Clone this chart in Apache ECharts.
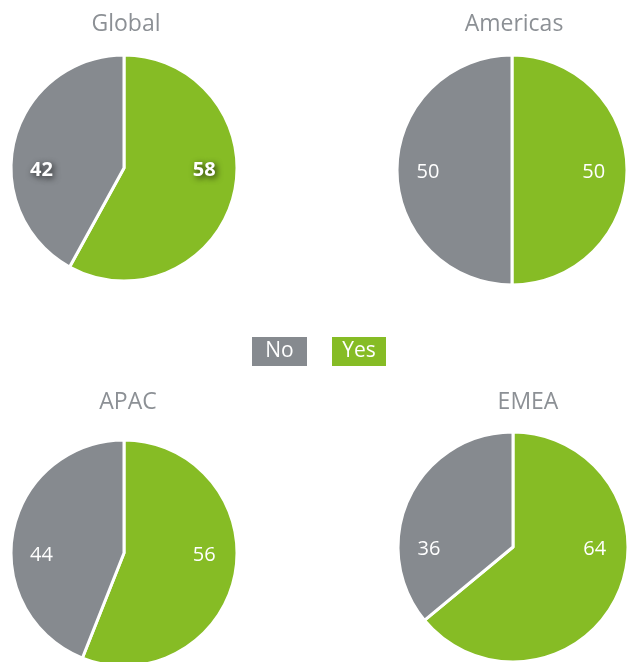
<!DOCTYPE html>
<html>
<head>
<meta charset="utf-8">
<script src="https://cdn.jsdelivr.net/npm/echarts@6/dist/echarts.min.js"></script>
<style>
html,body{margin:0;padding:0;background:#fff;}
#chart{width:627px;height:662px;}
</style>
</head>
<body>
<div id="chart"></div>
<script>
var regions = ['Global', 'Americas', 'APAC', 'EMEA'];
var categories = ['Yes', 'No'];
var yesValues = [58, 50, 56, 64];
var noValues = [42, 50, 44, 36];
var legendOrder = ['No', 'Yes'];

var GREEN = '#86bc25';
var GRAY = '#868a8f';
var TITLE = '#8c9095';
var FONT = '"Open Sans", "Noto Sans", sans-serif';

var layout = [
  {cx: 124, cy: 168, r: 113, tx: 121, ty: 8},
  {cx: 512, cy: 170, r: 115, tx: 509, ty: 8},
  {cx: 124, cy: 553, r: 113, tx: 123, ty: 386},
  {cx: 513, cy: 547, r: 115, tx: 523, ty: 386}
];

var chart = echarts.init(document.getElementById('chart'), null, {renderer: 'canvas'});

var titles = regions.map(function (name, i) {
  return {
    text: name,
    left: layout[i].tx,
    top: layout[i].ty,
    textAlign: 'center',
    textStyle: {color: TITLE, fontSize: 23, fontWeight: 'normal', fontFamily: FONT}
  };
});

var series = regions.map(function (name, i) {
  var L = layout[i];
  var bold = i === 0;
  return {
    type: 'pie',
    name: name,
    center: [L.cx, L.cy],
    radius: [0, L.r],
    startAngle: 90,
    clockwise: true,
    silent: true,
    animation: false,
    itemStyle: {borderColor: '#fff', borderWidth: 3},
    label: {
      show: true,
      position: 'inside',
      formatter: '{c}',
      color: '#fff',
      fontSize: 20,
      fontFamily: FONT,
      fontWeight: bold ? 'bold' : 'normal',
      textShadowColor: bold ? 'rgba(0,0,0,0.75)' : 'transparent',
      textShadowBlur: bold ? 6 : 0,
      textShadowOffsetX: bold ? 2 : 0,
      textShadowOffsetY: bold ? 2 : 0
    },
    labelLine: {show: false},
    labelLayout: function (p) {
      var dx = p.dataIndex === 0 ? 0.71 * L.r : -0.73 * L.r;
      return {x: L.cx + dx, y: L.cy + 2, align: 'center', verticalAlign: 'middle'};
    },
    data: [
      {name: categories[0], value: yesValues[i], itemStyle: {color: GREEN}},
      {name: categories[1], value: noValues[i], itemStyle: {color: GRAY}}
    ]
  };
});

var option = {
  backgroundColor: '#fff',
  title: titles,
  legend: {
    data: legendOrder,
    left: 241,
    top: 332,
    icon: 'rect',
    itemWidth: 0,
    itemHeight: 0,
    itemGap: 19,
    selectedMode: false,
    formatter: function (n) { return '{' + n + '|' + n + '}'; },
    textStyle: {
      fontFamily: FONT,
      fontSize: 21,
      color: '#fff',
      rich: {
        No: {backgroundColor: GRAY, color: '#fff', fontSize: 21, fontFamily: FONT, width: 55, height: 29, align: 'center', lineHeight: 29},
        Yes: {backgroundColor: GREEN, color: '#fff', fontSize: 21, fontFamily: FONT, width: 54, height: 29, align: 'center', lineHeight: 29}
      }
    }
  },
  series: series
};
chart.setOption(option);
</script>
</body>
</html>
